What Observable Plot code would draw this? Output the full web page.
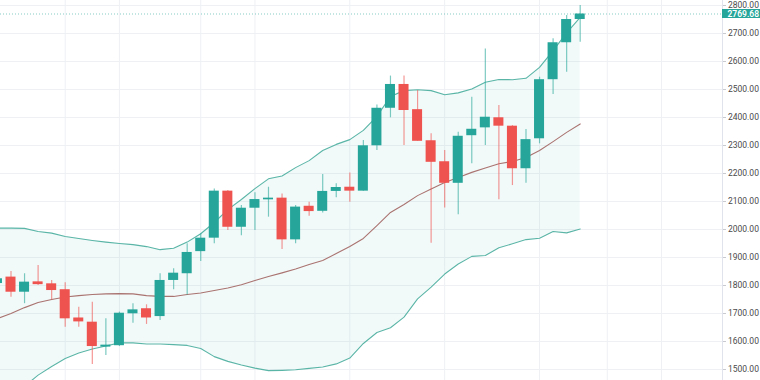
<!DOCTYPE html>
<html>
<head>
<meta charset="utf-8">
<script src="https://cdn.jsdelivr.net/npm/d3@7"></script>
<script src="https://cdn.jsdelivr.net/npm/@observablehq/plot@0.6"></script>
<style>
  html, body { margin: 0; padding: 0; background: #ffffff; }
  #chart { width: 760px; height: 380px; overflow: hidden; }
</style>
</head>
<body>
<div id="chart"></div>
<script>
// Candle index (weeks), -1 is the partially visible first candle
const index = d3.range(-1, 43);
const opens  = [1807,1830,1776,1813,1806,1785,1684,1669,1580,1585,1699,1717,1689,1818,1842,1921,1969,2137,2008,2076,2106,2112,1963,2083,2065,2136,2151,2137,2299,2433,2518,2428,2317,2242,2165,2335,2363,2399,2369,2217,2324,2535,2667,2750];
const highs  = [1832,1850,1842,1871,1818,1810,1722,1740,1681,1705,1735,1731,1842,1860,1949,1985,2145,2139,2086,2131,2151,2127,2086,2097,2196,2163,2202,2318,2445,2548,2548,2496,2342,2282,2347,2472,2645,2443,2371,2357,2544,2681,2764,2800];
const lows   = [1800,1758,1735,1800,1749,1651,1651,1518,1550,1582,1665,1661,1675,1785,1766,1886,1949,1996,1978,1996,2044,1929,1949,2047,2059,2113,2097,2137,2282,2399,2300,2315,1951,2077,2053,2235,2300,2106,2157,2165,2306,2482,2562,2669];
const closes = [1824,1776,1812,1803,1782,1681,1670,1582,1587,1701,1713,1684,1818,1844,1918,1969,2137,2008,2076,2107,2112,1963,2080,2064,2136,2150,2137,2299,2433,2518,2425,2315,2240,2165,2333,2358,2401,2369,2217,2321,2535,2667,2750,2769.68];
// Bollinger bands
const upperBand  = [2005,2005,2004,1993,1987,1975,1968,1961,1955,1950,1946,1939,1928,1933,1955,1985,2025,2071,2107,2146,2181,2191,2221,2246,2282,2304,2321,2354,2404,2475,2496,2499,2496,2481,2488,2502,2526,2536,2535,2540,2579,2639,2702,2758];
const middleBand = [1682,1700,1721,1739,1750,1759,1764,1768,1770,1771,1770,1764,1761,1761,1768,1773,1782,1791,1803,1818,1832,1845,1859,1875,1889,1914,1939,1968,2014,2061,2089,2121,2145,2168,2186,2204,2220,2235,2243,2257,2282,2314,2347,2377];
const lowerBand  = [1380,1410,1440,1480,1511,1539,1559,1573,1584,1595,1595,1591,1591,1589,1586,1575,1546,1529,1516,1505,1496,1497,1499,1504,1509,1520,1541,1593,1632,1649,1687,1752,1794,1841,1877,1904,1907,1935,1949,1964,1969,1993,1988,2002];
// Axis ticks and vertical grid positions (candle indices)
const yTicks = [1500,1600,1700,1800,1900,2000,2100,2200,2300,2400,2500,2600,2700,2800];
const gridIndices = [4, 8, 14, 18, 25, 32, 39, 44, 48];
const lastPrice = 2769.68;

const UP = "#26a69a", DOWN = "#ef5350";
const candles = index.map((i, k) => ({i, o: opens[k], h: highs[k], l: lows[k], c: closes[k]}));
const bands = index.map((i, k) => ({i, upper: upperBand[k], middle: middleBand[k], lower: lowerBand[k]}));
const colorOf = d => d.c >= d.o ? UP : DOWN;
const xMin = -0.775, xMax = 52.5;

const chart = Plot.plot({
  width: 760,
  height: 380,
  marginLeft: 0,
  marginTop: 0,
  marginBottom: 0,
  marginRight: 38,
  x: {domain: [xMin, xMax], axis: null},
  y: {domain: [1460.7, 2817.9], axis: null},
  color: {type: "identity"},
  style: {fontFamily: "Roboto, 'Liberation Sans', sans-serif", fontSize: "8.5px", background: "#ffffff", overflow: "visible"},
  marks: [
    Plot.gridY(yTicks, {stroke: "#eef0f4", strokeOpacity: 1}),
    Plot.gridX(gridIndices, {stroke: "#eef0f4", strokeOpacity: 1}),
    Plot.areaY(bands, {x: "i", y1: "lower", y2: "upper", fill: UP, fillOpacity: 0.06, clip: true}),
    Plot.lineY(bands, {x: "i", y: "upper", stroke: "#5ab5a7", strokeWidth: 1.1, clip: true}),
    Plot.lineY(bands, {x: "i", y: "lower", stroke: "#5ab5a7", strokeWidth: 1.1, clip: true}),
    Plot.lineY(bands, {x: "i", y: "middle", stroke: "#a97370", strokeWidth: 1.1, clip: true}),
    Plot.ruleY([lastPrice], {stroke: UP, strokeOpacity: 0.55, strokeDasharray: "1,2"}),
    Plot.ruleX(candles, {x: "i", y1: "l", y2: "h", stroke: colorOf, strokeOpacity: 0.6, strokeWidth: 1.2, clip: true}),
    Plot.rect(candles, {x1: d => d.i - 0.37, x2: d => d.i + 0.37, y1: "o", y2: "c", fill: colorOf, clip: true}),
    Plot.ruleX([xMax], {stroke: "#e0e3eb"}),
    Plot.axisY(yTicks, {anchor: "right", tickSize: 3, tickPadding: 2.5, stroke: "#c8cad0", fill: "#4a4a4a", fontSize: 8.5, tickFormat: d => d.toFixed(2)}),
    Plot.rect([lastPrice], {x1: () => xMax, x2: () => xMax, y1: d => d, y2: d => d, insetLeft: 0, insetRight: -38, insetTop: -4.5, insetBottom: -4.5, fill: UP}),
    Plot.text([lastPrice], {y: d => d, frameAnchor: "right", dx: 5, textAnchor: "start", text: d => d.toFixed(2), fill: "#ffffff", fontSize: 8.5, fontWeight: 600})
  ]
});
document.getElementById("chart").appendChild(chart);
</script>
</body>
</html>
